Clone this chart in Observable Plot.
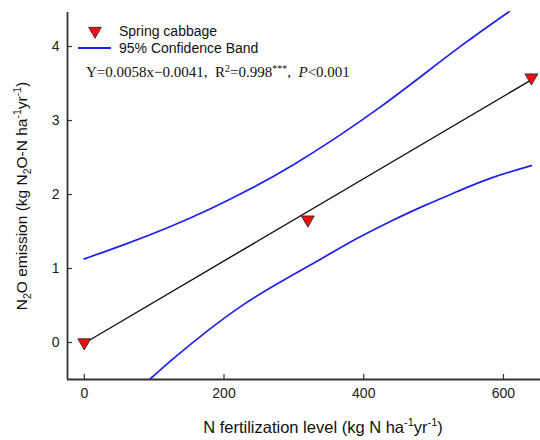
<!DOCTYPE html>
<html><head><meta charset="utf-8">
<script src="https://cdn.jsdelivr.net/npm/d3@7"></script>
<script src="https://cdn.jsdelivr.net/npm/@observablehq/plot@0.6"></script>
<style>body{margin:0;background:#fff}</style>
</head><body><div id="chart"></div>
<script>
// Data
const fertilization = [0, 320, 640];
const emission = [0.0, 1.66, 3.58];
const fitX = [0, 640];
const fitY = [-0.01, 3.55];
const upperX = [0, 60, 120, 180, 240, 300, 360, 420, 480, 540, 608];
const upperY = [1.13, 1.33, 1.55, 1.80, 2.08, 2.40, 2.76, 3.15, 3.58, 4.02, 4.47];
const lowerX = [94.5, 128, 176, 223, 271, 343, 390, 438, 486, 534, 581, 640];
const lowerY = [-0.49, -0.21, 0.16, 0.49, 0.77, 1.15, 1.41, 1.64, 1.85, 2.04, 2.23, 2.39];
const xTicks = [0, 200, 400, 600];
const yTicks = [0, 1, 2, 3, 4];
const xDomain = [-24, 653];
const yDomain = [-0.5, 4.46];
const seriesName = "Spring cabbage";
const bandName = "95% Confidence Band";

const points = fertilization.map((x, i) => ({x, y: emission[i]}));
const fit = fitX.map((x, i) => ({x, y: fitY[i]}));
const upper = upperX.map((x, i) => ({x, y: upperY[i]}));
const lower = lowerX.map((x, i) => ({x, y: lowerY[i]}));

const axisColor = "#333";
const blue = "#2020ee";
const red = "#ee1111";

const chart = Plot.plot({
  width: 540, height: 440,
  marginLeft: 67, marginRight: 0, marginTop: 12, marginBottom: 61,
  style: {fontFamily: "'Liberation Sans', Arial, sans-serif", fontSize: "14px", color: "#222", background: "white"},
  x: {domain: xDomain, label: null},
  y: {domain: yDomain, label: null},
  marks: [
    Plot.axisX({ticks: xTicks, tickFormat: d3.format("d"), tickSize: -5, tickPadding: 14, label: null, stroke: axisColor, strokeWidth: 1.2}),
    Plot.axisY({ticks: yTicks, tickFormat: d3.format("d"), tickSize: -5, tickPadding: 13, label: null, stroke: axisColor, strokeWidth: 1.2}),
    Plot.ruleX([xDomain[0]], {stroke: axisColor, strokeWidth: 1.8}),
    Plot.ruleY([yDomain[0]], {stroke: axisColor, strokeWidth: 1.8}),
    Plot.line(upper, {x: "x", y: "y", stroke: blue, strokeWidth: 1.7, curve: "basis"}),
    Plot.line(lower, {x: "x", y: "y", stroke: blue, strokeWidth: 1.7, curve: "basis"}),
    Plot.line(fit, {x: "x", y: "y", stroke: "#111", strokeWidth: 1.4}),
    Plot.dot(points, {x: "x", y: "y", symbol: "triangle", rotate: 180, r: 4.8, fill: red, stroke: "#222", strokeWidth: 0.8})
  ]
});
document.getElementById("chart").appendChild(chart);

const svg = d3.select(chart);
const sans = "'Liberation Sans', Arial, sans-serif";
const serif = "'Liberation Serif', 'Times New Roman', serif";

// Legend
const lg = svg.append("g").attr("font-family", sans).attr("font-size", 14).attr("fill", "#111").attr("text-anchor", "start");
lg.append("path").attr("d", d3.symbol(d3.symbolTriangle, 70)()).attr("transform", "translate(95,31) rotate(180)")
  .attr("fill", red).attr("stroke", "#222").attr("stroke-width", 0.8);
lg.append("text").attr("x", 119).attr("y", 36).text(seriesName);
lg.append("line").attr("x1", 78).attr("x2", 111).attr("y1", 48).attr("y2", 48).attr("stroke", blue).attr("stroke-width", 1.8);
lg.append("text").attr("x", 119).attr("y", 53).text(bandName);

// Equation
const eq = svg.append("text").attr("x", 86).attr("y", 77).attr("text-anchor", "start")
  .attr("font-family", serif).attr("font-size", 15).attr("fill", "#111");
eq.append("tspan").text("Y=0.0058x\u22120.0041,  R");
eq.append("tspan").attr("font-size", 10).attr("dy", -5).text("2");
eq.append("tspan").attr("dy", 5).text("=0.998");
eq.append("tspan").attr("font-size", 10).attr("dy", -5).text("***");
eq.append("tspan").attr("dy", 5).text(",  ");
eq.append("tspan").attr("font-style", "italic").text("P");
eq.append("tspan").text("<0.001");

// Axis titles
const xl = svg.append("text").attr("x", 323).attr("y", 433).attr("text-anchor", "middle")
  .attr("font-family", sans).attr("font-size", 16.5).attr("fill", "#111");
xl.append("tspan").text("N fertilization level (kg N ha");
xl.append("tspan").attr("font-size", 11).attr("dy", -7).text("-1");
xl.append("tspan").attr("dy", 7).text("yr");
xl.append("tspan").attr("font-size", 11).attr("dy", -7).text("-1");
xl.append("tspan").attr("dy", 7).text(")");

const yl = svg.append("text").attr("transform", "translate(27,196) rotate(-90)").attr("text-anchor", "middle")
  .attr("font-family", sans).attr("font-size", 15.5).attr("fill", "#111");
yl.append("tspan").text("N");
yl.append("tspan").attr("font-size", 10.5).attr("dy", 4).text("2");
yl.append("tspan").attr("dy", -4).text("O emission (kg N");
yl.append("tspan").attr("font-size", 10.5).attr("dy", 4).text("2");
yl.append("tspan").attr("dy", -4).text("O-N ha");
yl.append("tspan").attr("font-size", 10.5).attr("dy", -6).text("-1");
yl.append("tspan").attr("dy", 6).text("yr");
yl.append("tspan").attr("font-size", 10.5).attr("dy", -6).text("-1");
yl.append("tspan").attr("dy", 6).text(")");
</script>
</body></html>
